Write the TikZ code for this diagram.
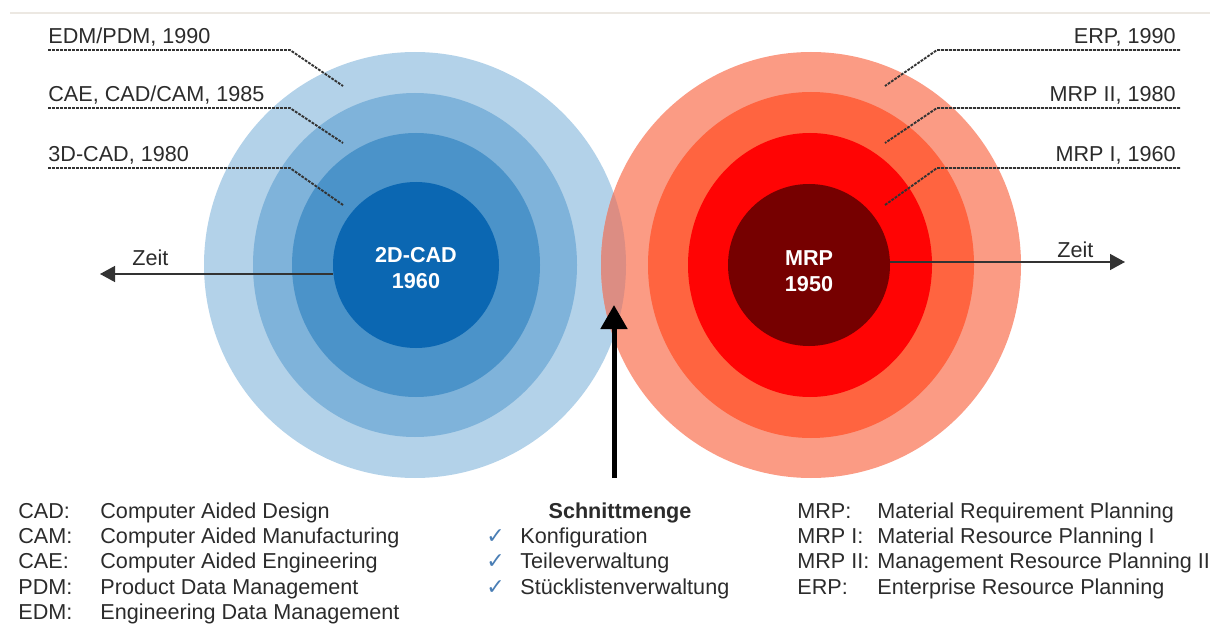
\documentclass[tikz,border=0pt]{standalone}
\usepackage{fontspec}
\setmainfont{Liberation Sans}
\newfontfamily\symfont{DejaVu Sans}
\usetikzlibrary{arrows.meta,shapes.geometric,positioning}

\definecolor{blueA}{HTML}{B3D2E9}
\definecolor{blueB}{HTML}{7FB3DA}
\definecolor{blueC}{HTML}{4B93C9}
\definecolor{blueD}{HTML}{0B67B2}
\definecolor{redA}{HTML}{FB9B84}
\definecolor{redB}{HTML}{FF6440}
\definecolor{redC}{HTML}{FF0404}
\definecolor{redD}{HTML}{760000}
\definecolor{cutset}{HTML}{DC8D83}
\definecolor{txt}{HTML}{2B2B2B}
\definecolor{leadgray}{HTML}{333333}
\definecolor{chkblue}{HTML}{4A7EB5}
\definecolor{frame}{HTML}{ECE8E2}

\tikzset{
  ring/.style={ellipse, inner sep=0pt, outer sep=0pt},
  core/.style={circle, inner sep=0pt, outer sep=0pt},
  lbl/.style={font=\fontsize{10.8}{13}\selectfont, text=txt, inner sep=0pt},
  ctr/.style={font=\bfseries\fontsize{10.8}{13}\selectfont, text=white, align=center, inner sep=0pt},
  leader/.style={draw=leadgray, line width=0.95pt, dash pattern=on 1.4pt off 0.6pt},
  zeitpfeil/.style={draw=leadgray, line width=0.7pt, -{Triangle[length=7.5pt,width=8pt]}},
  chk/.style={font=\symfont\fontsize{11}{13}\selectfont, text=chkblue, inner sep=0pt},
}

\begin{document}
\begin{tikzpicture}[x=0.5pt,y=-0.5pt]
\useasboundingbox (0,0) rectangle (1216,626);
\draw[frame, line width=0.6pt] (10,13) -- (1210,13);

% CAD-Seite
\node[ring, fill=blueA, minimum width=211pt, minimum height=213pt] (b1) at (415,265) {};
\node[ring, fill=blueB, minimum width=162pt, minimum height=172pt] (b2) at (415,265) {};
\node[ring, fill=blueC, minimum width=124pt, minimum height=132pt] (b3) at (416,265) {};
\node[core, fill=blueD, minimum size=83pt] (b4) at (416,265) {};

% MRP-Seite
\node[ring, fill=redA, minimum width=210pt, minimum height=213pt] (r1) at (811,265) {};
\node[ring, fill=redB, minimum width=163pt, minimum height=173pt] (r2) at (811,265) {};
\node[ring, fill=redC, minimum width=122pt, minimum height=132pt] (r3) at (810,265) {};
\node[core, fill=redD, minimum size=81pt] (r4) at (809,265) {};

\begin{scope}
  \clip (b1.center) ellipse [x radius=105.5pt, y radius=106.5pt];
  \fill[cutset] (r1.center) ellipse [x radius=105pt, y radius=106.5pt];
\end{scope}

\node[ctr, yshift=-1.5pt] (t1) at (b4) {2D-CAD\\1960};
\node[ctr, yshift=-3pt] (t2) at (r4) {MRP\\1950};

% Zeitachsen
\coordinate (zl) at (100,274);
\coordinate (zr) at (1125,262);
\draw[zeitpfeil] (b4.west |- zl) -- (zl);
\draw[zeitpfeil] (r4.east |- zr) -- (zr);
\node[lbl, anchor=base west] (z1) at (132,265) {Zeit};
\node[lbl, anchor=base west] (z2) at (1057,257) {Zeit};

% Beschriftungen links
\node[lbl, anchor=base west] (l1) at (48,44) {EDM/PDM, 1990};
\node[lbl, anchor=base west] (l2) at (48,102) {CAE, CAD/CAM, 1985};
\node[lbl, anchor=base west] (l3) at (48,162) {3D-CAD, 1980};
\coordinate (k1) at (290,50);  \coordinate (e1) at (343,86);
\coordinate (k2) at (290,108); \coordinate (e2) at (343,143);
\coordinate (k3) at (290,168); \coordinate (e3) at (343,205);
\draw[leader] (l1.west |- k1) -- (k1) -- (e1);
\draw[leader] (l2.west |- k2) -- (k2) -- (e2);
\draw[leader] (l3.west |- k3) -- (k3) -- (e3);

% Beschriftungen rechts
\node[lbl, anchor=base east] (l4) at (1176,44) {ERP, 1990};
\node[lbl, anchor=base east] (l5) at (1176,102) {MRP II, 1980};
\node[lbl, anchor=base east] (l6) at (1176,162) {MRP I, 1960};
\coordinate (k4) at (937,50);  \coordinate (e4) at (885,86);
\coordinate (k5) at (937,108); \coordinate (e5) at (885,143);
\coordinate (k6) at (937,168); \coordinate (e6) at (885,205);
\draw[leader] (1180,50) -- (k4) -- (e4);
\draw[leader] (1180,108) -- (k5) -- (e5);
\draw[leader] (1180,168) -- (k6) -- (e6);

% Schnittmenge
\coordinate (s0) at (614,478);
\coordinate (s1) at (614,305);
\draw[black, line width=2.5pt, -{Triangle[length=12pt,width=13pt]}] (s0) -- (s1);
\node[lbl, font=\bfseries\fontsize{10.8}{13}\selectfont, anchor=base] (sm) at (620,518) {Schnittmenge};
\node[chk, anchor=base west] (c1) at (486,543) {✓};
\node[chk, anchor=base west] (c2) at (486,568.5) {✓};
\node[chk, anchor=base west] (c3) at (486,594) {✓};
\node[lbl, anchor=base west] (m1) at (520,543) {Konfiguration};
\node[lbl, anchor=base west] (m2) at (520,568.5) {Teileverwaltung};
\node[lbl, anchor=base west] (m3) at (520,594) {Stücklistenverwaltung};

% Legende links
\node[lbl, anchor=base west] (a1) at (18,518) {CAD:};
\node[lbl, anchor=base west] (a2) at (18,543) {CAM:};
\node[lbl, anchor=base west] (a3) at (18,568.5) {CAE:};
\node[lbl, anchor=base west] (a4) at (18,594) {PDM:};
\node[lbl, anchor=base west] (a5) at (18,619) {EDM:};
\node[lbl, anchor=base west] (d1) at (100,518) {Computer Aided Design};
\node[lbl, anchor=base west] (d2) at (100,543) {Computer Aided Manufacturing};
\node[lbl, anchor=base west] (d3) at (100,568.5) {Computer Aided Engineering};
\node[lbl, anchor=base west] (d4) at (100,594) {Product Data Management};
\node[lbl, anchor=base west] (d5) at (100,619) {Engineering Data Management};

% Legende rechts
\node[lbl, anchor=base west] (a6) at (797,518) {MRP:};
\node[lbl, anchor=base west] (a7) at (797,543) {MRP I:};
\node[lbl, anchor=base west] (a8) at (797,568.5) {MRP II:};
\node[lbl, anchor=base west] (a9) at (797,594) {ERP:};
\node[lbl, anchor=base west] (d6) at (877,518) {Material Requirement Planning};
\node[lbl, anchor=base west] (d7) at (877,543) {Material Resource Planning I};
\node[lbl, anchor=base west] (d8) at (877,568.5) {Management Resource Planning II};
\node[lbl, anchor=base west] (d9) at (877,594) {Enterprise Resource Planning};
\end{tikzpicture}
\end{document}
